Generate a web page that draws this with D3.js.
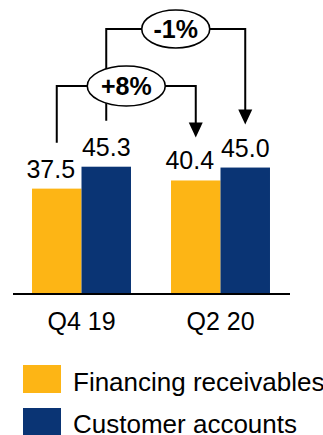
<!DOCTYPE html>
<html><head><meta charset="utf-8">
<script src="https://cdn.jsdelivr.net/npm/d3@7"></script>
<style>html,body{margin:0;padding:0;background:#fff;overflow:hidden}svg{display:block}text{font-family:"Liberation Sans",Arial,sans-serif}</style>
</head><body>
<script>
const categories = ["Q4 19", "Q2 20"];
const seriesNames = ["Financing receivables", "Customer accounts"];
const financing = [37.5, 40.4];
const customer = [45.3, 45.0];
const changeLabels = ["+8%", "-1%"]; // per series: financing, customer
const colors = ["#FDB515", "#0A3474"];

const W = 323, H = 435;
const svg = d3.select("body").append("svg").attr("width", W).attr("height", H);

const baseY = 294;
const y = d3.scaleLinear().domain([0, 50]).range([baseY, 153.5]);
const x0 = d3.scaleBand().domain(categories).range([12, 290]).paddingInner(0.288).paddingOuter(0.144);
const x1 = d3.scaleBand().domain([0, 1]).range([0, x0.bandwidth()]);
const seriesVals = [financing, customer];

// bars
seriesVals.forEach((vals, s) => {
  svg.selectAll(".bar" + s).data(vals).enter().append("rect")
    .attr("x", (d, i) => x0(categories[i]) + x1(s))
    .attr("y", d => y(d))
    .attr("width", x1.bandwidth())
    .attr("height", d => baseY - y(d))
    .attr("fill", colors[s]);
  svg.selectAll(".lab" + s).data(vals).enter().append("text")
    .attr("x", (d, i) => x0(categories[i]) + x1(s) + x1.bandwidth() / 2 - (s === 0 ? 6 : 0))
    .attr("y", d => y(d) - 11)
    .attr("text-anchor", "middle")
    .attr("font-size", 25)
    .attr("fill", "#000")
    .text(d => d.toFixed(1));
});

// axis
const xAxis = d3.axisBottom(x0).tickSize(0).tickPadding(18);
const ax = svg.append("g").attr("transform", `translate(0,${baseY})`).call(xAxis);
ax.select(".domain").attr("d", "M13,0H290").attr("stroke", "#000").attr("stroke-width", 2);
ax.selectAll(".tick text").attr("font-size", 25).attr("fill", "#000")
  .attr("font-family", '"Liberation Sans",Arial,sans-serif').attr("dy", "0.71em");

// change brackets
const brackets = [
  { s: 1, level: 29, rx: 34, ry: 19 },
  { s: 0, level: 86, rx: 39, ry: 20 }
];
const lineG = svg.append("g");
const ellG = svg.append("g");
brackets.forEach(b => {
  const vals = seriesVals[b.s];
  const xa = x0(categories[0]) + x1(b.s) + x1.bandwidth() / 2;
  const xb = x0(categories[1]) + x1(b.s) + x1.bandwidth() / 2;
  const yStart = y(vals[0]) - 46;
  const tip = y(vals[1]) - 43;
  lineG.append("path")
    .attr("d", `M${xa},${yStart}V${b.level}H${xb}V${tip - 12}`)
    .attr("fill", "none").attr("stroke", "#000").attr("stroke-width", 2);
  lineG.append("path")
    .attr("d", `M${xb - 7},${tip - 15}L${xb + 7},${tip - 15}L${xb},${tip}Z`)
    .attr("fill", "#000");
  const cx = (xa + xb) / 2;
  b.cx = cx;
  const g = ellG.append("g");
  g.append("ellipse").attr("cx", cx).attr("cy", b.level).attr("rx", b.rx).attr("ry", b.ry)
    .attr("fill", "#fff").attr("stroke", "#000").attr("stroke-width", 1.6);
  g.append("text").attr("x", cx).attr("y", b.level + 9).attr("text-anchor", "middle")
    .attr("font-size", 25).attr("font-weight", "bold").text(changeLabels[b.s]);
});
// draw lower bracket ellipse on top of upper bracket line
ellG.raise();

// legend
const leg = svg.append("g");
seriesNames.forEach((n, i) => {
  leg.append("rect").attr("x", 23).attr("y", 365 + i * 43).attr("width", 38).attr("height", 28).attr("fill", colors[i]);
  leg.append("text").attr("x", 73).attr("y", 391 + i * 42).attr("font-size", 26).attr("fill", "#000").text(n);
});
</script>
</body></html>
